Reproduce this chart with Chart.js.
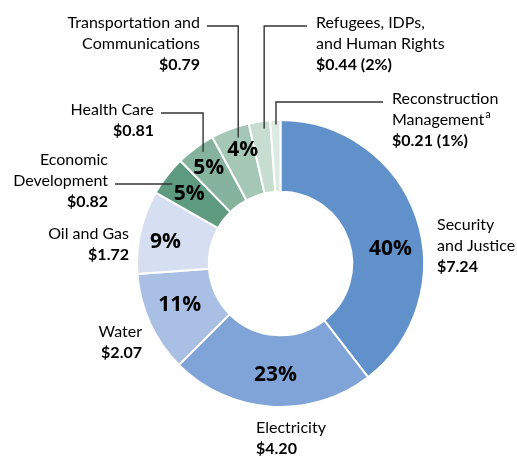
<!DOCTYPE html>
<html>
<head>
<meta charset="utf-8">
<script src="https://cdn.jsdelivr.net/npm/chart.js@4"></script>
<style>
  html, body { margin: 0; padding: 0; background: #fff; }
  #wrap { width: 517px; height: 457px; }
</style>
</head>
<body>
<div id="wrap"><canvas id="chart" width="517" height="457"></canvas></div>
<script>
// chart data
const categories = ['Security and Justice', 'Electricity', 'Water', 'Oil and Gas', 'Economic Development',
  'Health Care', 'Transportation and Communications', 'Refugees, IDPs, and Human Rights', 'Reconstruction Management'];
const values = [7.24, 4.20, 2.07, 1.72, 0.82, 0.81, 0.79, 0.44, 0.21];
const pctLabels = ['40%', '23%', '11%', '9%', '5%', '5%', '4%', '', ''];
const colors = ['#6091cb', '#80a4d7', '#a9bfe3', '#d6dff2', '#5d9a80', '#86b39e', '#a5c7b5', '#c6ddd0', '#dde9e3'];

// text for the outside labels (last line is bold)
const outLabels = [
  { lines: ['Security', 'and Justice', '$7.24'], x: 437, y: 225, align: 'left' },
  { lines: ['Electricity', '$4.20'], x: 256, y: 428, align: 'left' },
  { lines: ['Water', '$2.07'], x: 142, y: 332, align: 'right' },
  { lines: ['Oil and Gas', '$1.72'], x: 129, y: 234, align: 'right' },
  { lines: ['Economic', 'Development', '$0.82'], x: 108, y: 160, align: 'right', lead: { line: 1, t: 0.44, r: 135 } },
  { lines: ['Health Care', '$0.81'], x: 154, y: 110, align: 'right', lead: { line: 0, t: 0.6, r: 136 } },
  { lines: ['Transportation and', 'Communications', '$0.79'], x: 200, y: 23, align: 'right', lead: { line: 0, t: 0.63, r: 133 } },
  { lines: ['Refugees, IDPs,', 'and Human Rights', '$0.44 (2%)'], x: 316, y: 23, align: 'left', lead: { line: 0, t: 0.68, r: 136 } },
  { lines: ['Reconstruction', 'Management', '$0.21 (1%)'], x: 392, y: 99, align: 'left', sup: 'a', lead: { line: 0, t: 0.55, r: 139 } }
];
// small nudges for the percent labels
const pctNudge = [[8, 20], [2, 4], [-3, -3], [-10, 2], [-6, -4], [-8, -9], [0, -13], [0, 0], [0, 0]];

const FONT = 'Lato, "Open Sans", sans-serif';
const PCT_FONT = 'bold 21px "Open Sans", sans-serif';
const LINE_H = 21;

const labelPlugin = {
  id: 'labels',
  afterDraw(chart) {
    const ctx = chart.ctx;
    const arcs = chart.getDatasetMeta(0).data;
    ctx.save();
    // percent labels inside the ring
    ctx.fillStyle = '#000';
    ctx.font = PCT_FONT;
    ctx.textAlign = 'center';
    ctx.textBaseline = 'middle';
    arcs.forEach((arc, i) => {
      if (!pctLabels[i]) return;
      const p = arc.getProps(['x', 'y', 'startAngle', 'endAngle', 'innerRadius', 'outerRadius'], true);
      const a = (p.startAngle + p.endAngle) / 2;
      const r = (p.innerRadius + p.outerRadius) / 2;
      ctx.fillText(pctLabels[i], p.x + r * Math.cos(a) + pctNudge[i][0], p.y + r * Math.sin(a) + pctNudge[i][1]);
    });

    // outside labels and leader lines
    outLabels.forEach((lab, i) => {
      ctx.textAlign = lab.align;
      ctx.textBaseline = 'middle';
      lab.lines.forEach((txt, k) => {
        const bold = k === lab.lines.length - 1;
        ctx.font = (bold ? 'bold ' : '') + '16px ' + FONT;
        ctx.fillStyle = '#000';
        const y = lab.y + k * LINE_H;
        ctx.fillText(txt, lab.x, y);
        if (lab.sup && k === 1) {
          const w = ctx.measureText(txt).width;
          ctx.font = '11px ' + FONT;
          ctx.textAlign = 'left';
          ctx.fillText(lab.sup, lab.x + w + 1, y - 6);
          ctx.textAlign = lab.align;
        }
      });
      if (lab.lead) {
        const p = arcs[i].getProps(['x', 'y', 'startAngle', 'endAngle'], true);
        const a = p.startAngle + (p.endAngle - p.startAngle) * lab.lead.t;
        const ex = p.x + lab.lead.r * Math.cos(a);
        const ey = p.y + lab.lead.r * Math.sin(a);
        const ly = lab.y + lab.lead.line * LINE_H + 3;
        const sx = lab.align === 'right' ? lab.x + 7 : lab.x - 9;
        ctx.strokeStyle = '#333';
        ctx.lineWidth = 1.4;
        ctx.beginPath();
        ctx.moveTo(sx, ly);
        ctx.lineTo(ex, ly);
        if (Math.abs(ey - ly) > 3) ctx.lineTo(ex, ey);
        ctx.stroke();
      }
    });
    ctx.restore();
  }
};

new Chart(document.getElementById('chart'), {
  type: 'doughnut',
  data: {
    labels: categories,
    datasets: [{
      data: values,
      backgroundColor: colors,
      borderColor: '#fff',
      borderWidth: 2,
      hoverOffset: 0
    }]
  },
  options: {
    responsive: false,
    animation: false,
    cutout: '50%',
    layout: { padding: { left: 136, right: 92, top: 119, bottom: 49 } },
    plugins: {
      legend: { display: false },
      tooltip: { enabled: false }
    }
  },
  plugins: [labelPlugin]
});
</script>
</body>
</html>
